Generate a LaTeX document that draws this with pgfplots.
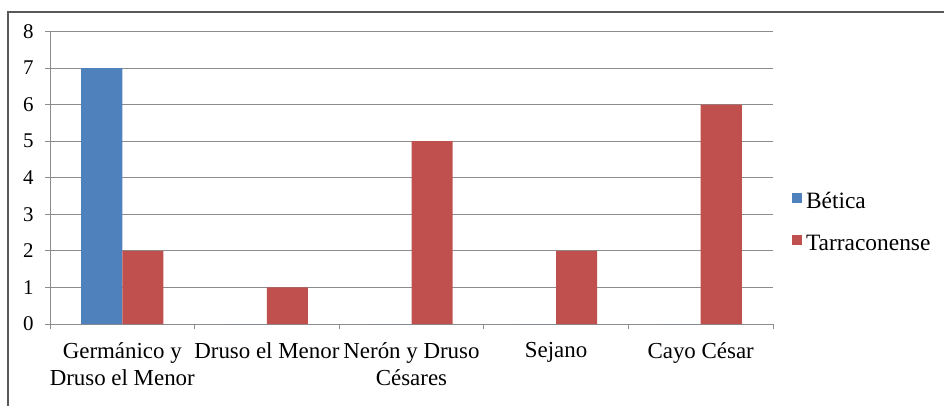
\documentclass[border=0pt]{standalone}
\usepackage{fontspec}
\setmainfont{Liberation Serif}
\usepackage{pgfplots}
\pgfplotsset{compat=1.18}
\definecolor{bblue}{HTML}{4F81BD}
\definecolor{bred}{HTML}{C0504D}
\definecolor{gridg}{HTML}{8C8C8C}
\begin{document}
\begin{tikzpicture}
\useasboundingbox (0bp,0bp) rectangle (944bp,406bp);
\draw[color=gray!70!black, line width=1.5bp] (8bp,0bp) -- (8bp,394bp) -- (944bp,394bp);
\begin{axis}[
  at={(50bp,82bp)}, anchor=south west,
  scale only axis, width=723bp, height=292.5bp,
  ybar=0pt, bar width=0.284,
  xmin=-0.5, xmax=4.5, ymin=0, ymax=8,
  ytick={0,...,8},
  xtick={0,1,2,3,4},
  xticklabels={{Germánico y\\Druso el Menor},{Druso el Menor},{Nerón y Druso\\Césares},{Sejano},{Cayo César}},
  xtick style={draw=none},
  extra x ticks={-0.5,0.5,1.5,2.5,3.5,4.5},
  extra x tick labels={,,,,,},
  extra x tick style={grid=none, xtick style={draw=gridg}},
  xticklabel style={align=center, font=\fontsize{23}{27}\selectfont, yshift=-10bp},
  yticklabel style={font=\fontsize{21}{25}\selectfont, xshift=-8bp},
  /pgf/number format/assume math mode=true,
  axis lines*=left,
  axis line style={gridg, line width=1bp},
  tick align=outside, major tick length=5bp,
  tick style={gridg, line width=1bp},
  ymajorgrids, xmajorgrids=false,
  major grid style={gridg, line width=1bp},
  legend style={at={(1.026,0.345)}, anchor=west, draw=none, fill=none, inner sep=0pt,
    font=\fontsize{23.5}{27}\selectfont, row sep=18bp, column sep=2bp,
    nodes={text height=16bp, text depth=4bp, inner sep=2bp}},
  legend cell align=left,
  legend image code/.code={\fill[#1] (0bp,-1bp) rectangle (10bp,9bp);},
]
\addplot[fill=bblue, draw=none] coordinates {(0,7) (1,0) (2,0) (3,0) (4,0)};
\addplot[fill=bred, draw=none] coordinates {(0,2) (1,1) (2,5) (3,2) (4,6)};
\legend{Bética,Tarraconense}
\end{axis}
\end{tikzpicture}
\end{document}
